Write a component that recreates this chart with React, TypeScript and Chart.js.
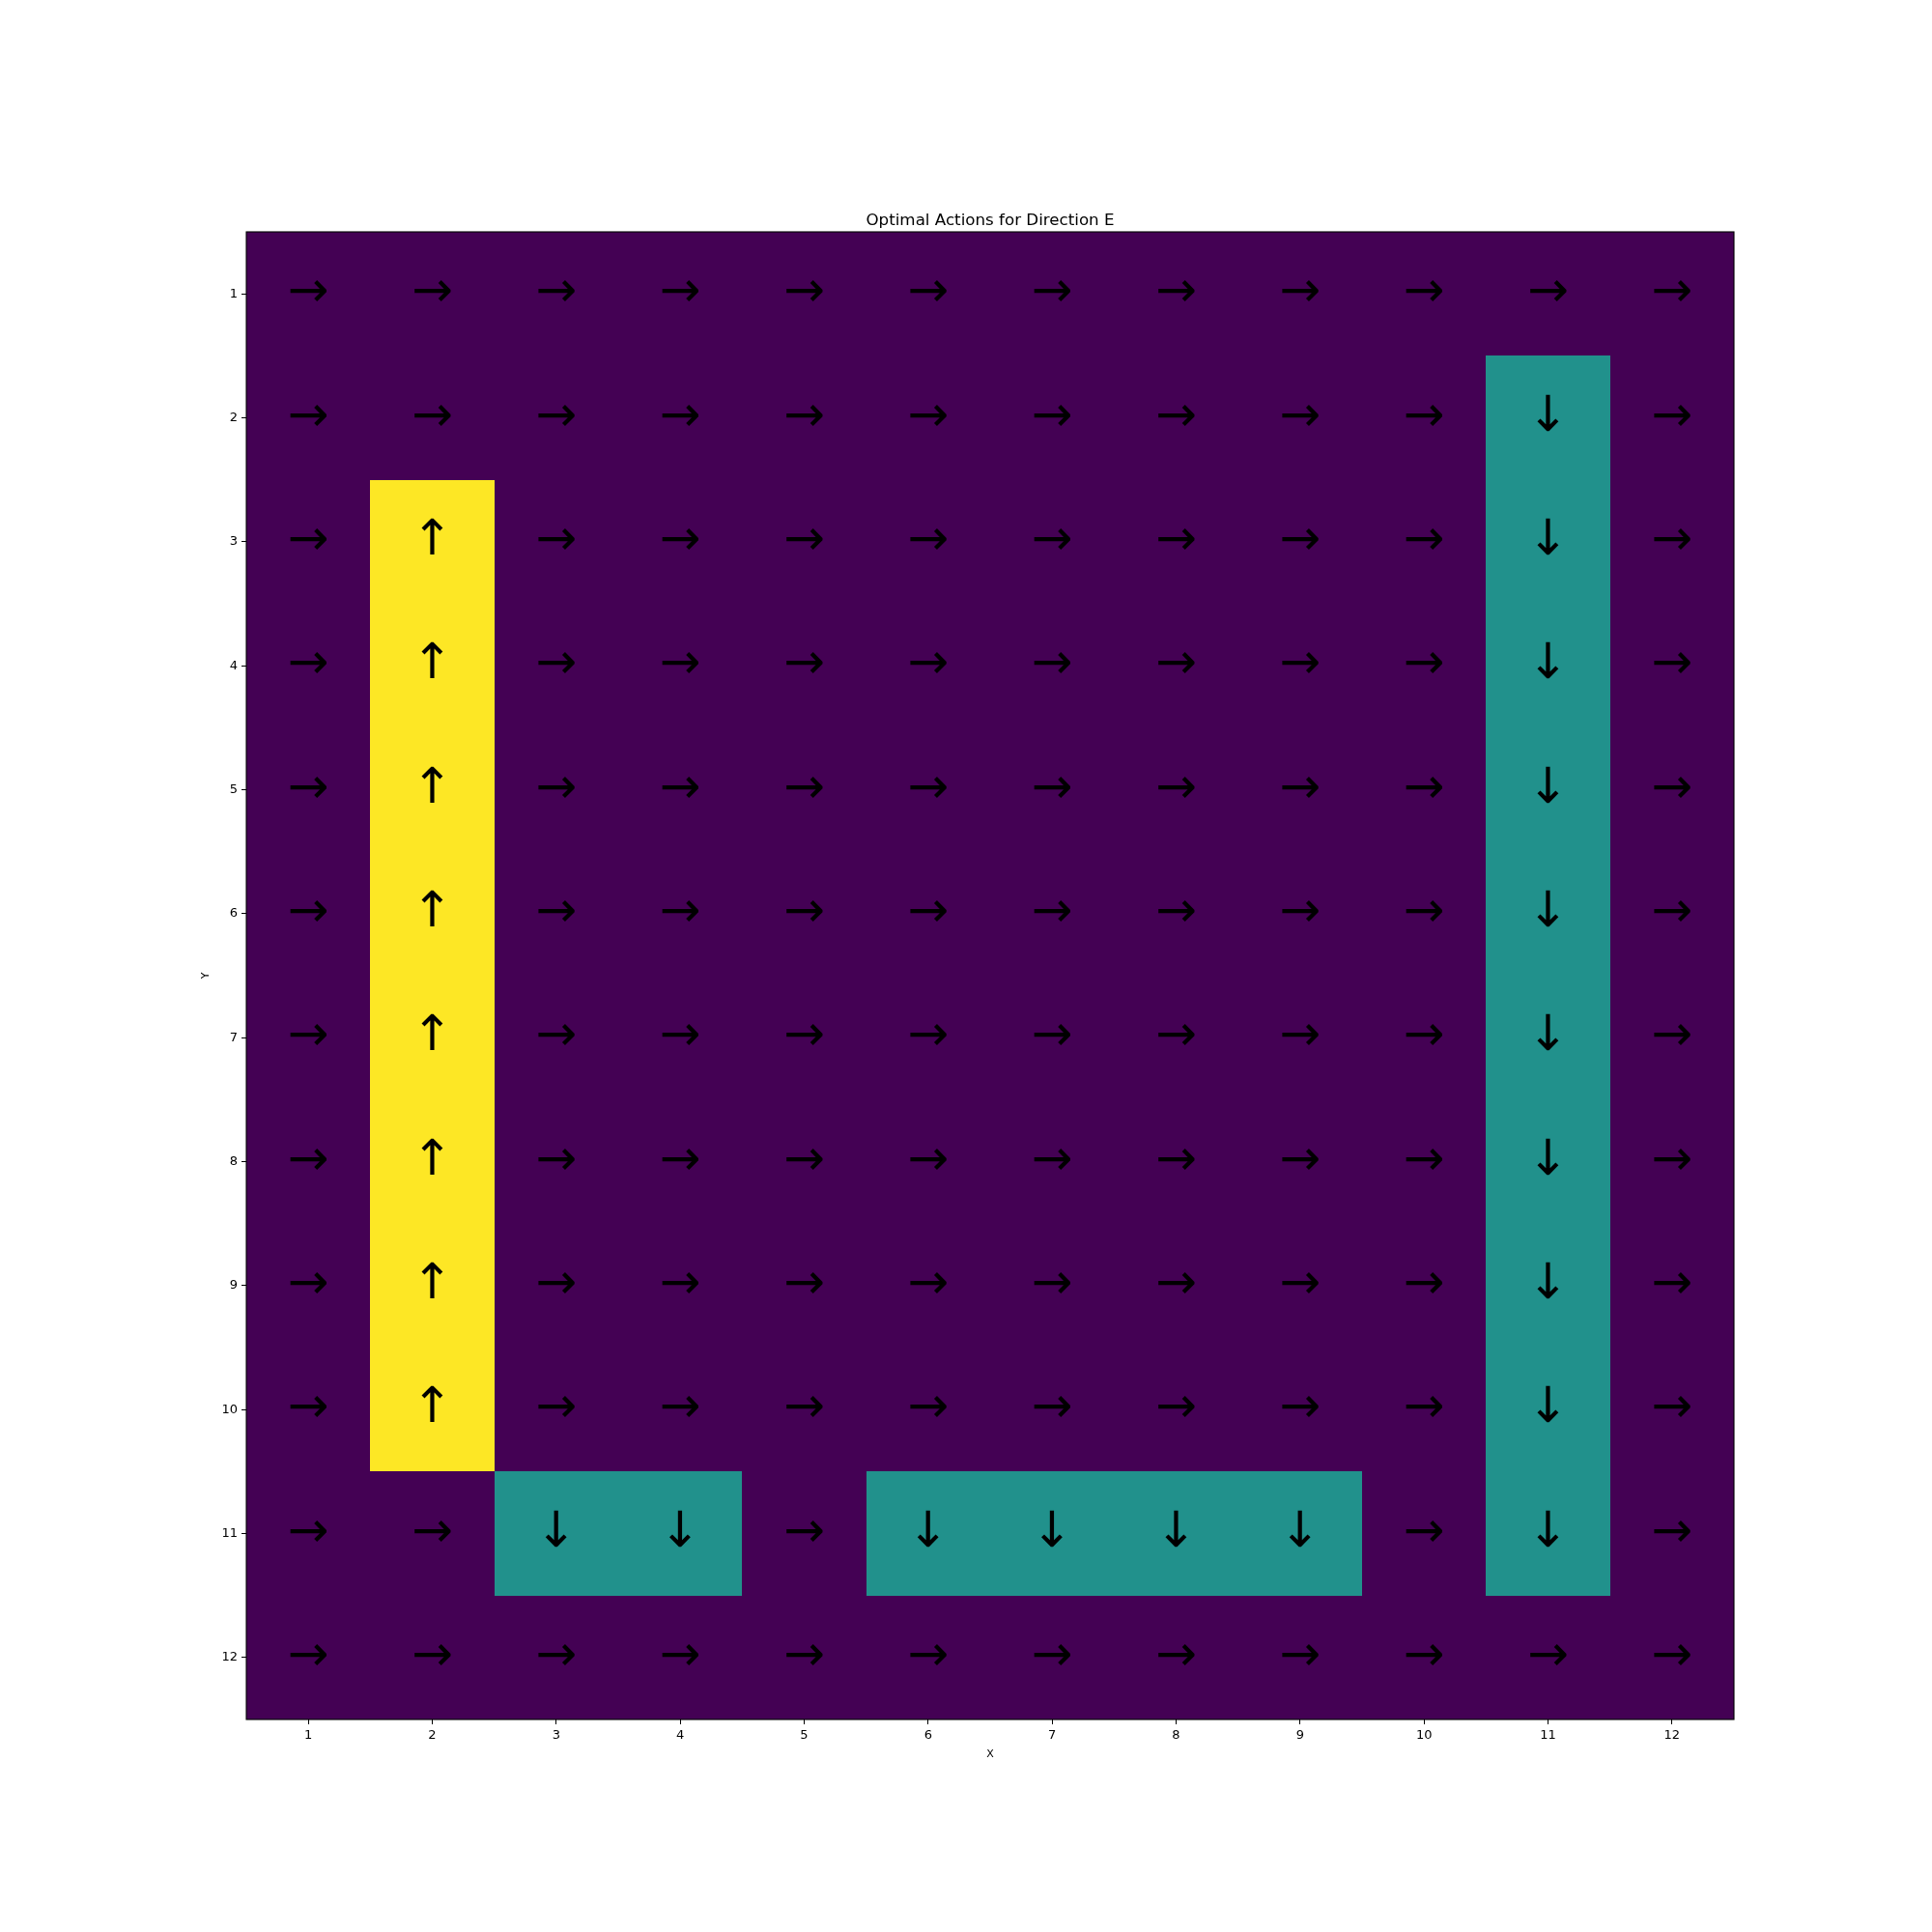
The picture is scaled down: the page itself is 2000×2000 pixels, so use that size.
import React, { useEffect, useRef } from "react";
import { Chart, registerables } from "chart.js";

Chart.register(...registerables);

const titleText = "Optimal Actions for Direction E";
const xTitle = "X";
const yTitle = "Y";
const xTickValues = [1, 2, 3, 4, 5, 6, 7, 8, 9, 10, 11, 12];
const yTickValues = [1, 2, 3, 4, 5, 6, 7, 8, 9, 10, 11, 12];

// R = right (→), D = down (↓), U = up (↑); one string per row Y=1..12, columns X=1..12
const actionRows = [
  "RRRRRRRRRRRR",
  "RRRRRRRRRRDR",
  "RURRRRRRRRDR",
  "RURRRRRRRRDR",
  "RURRRRRRRRDR",
  "RURRRRRRRRDR",
  "RURRRRRRRRDR",
  "RURRRRRRRRDR",
  "RURRRRRRRRDR",
  "RURRRRRRRRDR",
  "RRDDRDDDDRDR",
  "RRRRRRRRRRRR",
];

const actionGlyph: Record<string, string> = { R: "→", D: "↓", U: "↑" };
const actionColor: Record<string, string> = { R: "#440154", D: "#21918c", U: "#fde725" };

const FONT = "'DejaVu Sans', sans-serif";
const ARROW_SIZE = 51;

export default function App() {
  const ref = useRef<HTMLCanvasElement | null>(null);

  useEffect(() => {
    const canvas = ref.current;
    if (!canvas) return;
    const points: { x: number; y: number; a: string }[] = [];
    actionRows.forEach((row, ri) => {
      row.split("").forEach((a, ci) => {
        points.push({ x: xTickValues[ci], y: yTickValues[ri], a });
      });
    });

    const cellPlugin = {
      id: "cells",
      beforeDatasetsDraw(chart: any) {
        const ctx = chart.ctx;
        const xs = chart.scales.x;
        const ys = chart.scales.y;
        ctx.save();
        points.forEach((p) => {
          const x0 = Math.round(xs.getPixelForValue(p.x - 0.5));
          const x1 = Math.round(xs.getPixelForValue(p.x + 0.5));
          const y0 = Math.round(ys.getPixelForValue(p.y - 0.5));
          const y1 = Math.round(ys.getPixelForValue(p.y + 0.5));
          ctx.fillStyle = actionColor[p.a];
          ctx.fillRect(Math.min(x0, x1), Math.min(y0, y1), Math.abs(x1 - x0), Math.abs(y1 - y0));
        });
        ctx.restore();
      },
      afterDatasetsDraw(chart: any) {
        const ctx = chart.ctx;
        const xs = chart.scales.x;
        const ys = chart.scales.y;
        ctx.save();
        ctx.fillStyle = "#000000";
        ctx.font = `${ARROW_SIZE}px ${FONT}`;
        ctx.textAlign = "center";
        ctx.textBaseline = "middle";
        points.forEach((p) => {
          ctx.fillText(actionGlyph[p.a], xs.getPixelForValue(p.x), ys.getPixelForValue(p.y));
        });
        const ca = chart.chartArea;
        ctx.strokeStyle = "#000000";
        ctx.lineWidth = 1.1;
        ctx.strokeRect(ca.left, ca.top, ca.right - ca.left, ca.bottom - ca.top);
        // title centred over the plot area
        ctx.font = `16.7px ${FONT}`;
        ctx.textAlign = "center";
        ctx.textBaseline = "alphabetic";
        ctx.fillText(titleText, (ca.left + ca.right) / 2, ca.top - 7);
        ctx.restore();
      },
    };

    const chart = new Chart(canvas, {
      type: "scatter",
      data: {
        datasets: [
          {
            data: points as any,
            pointRadius: 0,
            pointHoverRadius: 0,
          },
        ],
      },
      options: {
        animation: false,
        responsive: false,
        devicePixelRatio: 1,
        events: [],
        layout: { padding: { left: 207, right: 205, top: 240, bottom: 177 } },
        plugins: {
          legend: { display: false },
          tooltip: { enabled: false },
          title: { display: false },
        },
        scales: {
          x: {
            type: "linear",
            min: 0.5,
            max: 12.5,
            afterBuildTicks: (s: any) => {
              s.ticks = xTickValues.map((v) => ({ value: v }));
            },
            afterFit: (s: any) => {
              s.height = 43;
            },
            grid: { display: true, drawOnChartArea: false, drawTicks: true, tickLength: 5, color: "#000000", tickWidth: 1 },
            border: { display: false },
            ticks: {
              color: "#000000",
              font: { family: FONT, size: 13 },
              padding: 4,
              maxRotation: 0,
              autoSkip: false,
              callback: (v: any) => String(v),
            },
            title: {
              display: true,
              text: xTitle,
              color: "#000000",
              font: { family: FONT, size: 11 },
              padding: { top: 0, bottom: 0 },
            },
          },
          y: {
            type: "linear",
            reverse: true,
            min: 0.5,
            max: 12.5,
            afterBuildTicks: (s: any) => {
              s.ticks = yTickValues.map((v) => ({ value: v }));
            },
            afterFit: (s: any) => {
              s.width = 48;
            },
            grid: { display: true, drawOnChartArea: false, drawTicks: true, tickLength: 5, color: "#000000", tickWidth: 1 },
            border: { display: false },
            ticks: {
              color: "#000000",
              font: { family: FONT, size: 13 },
              padding: 4,
              autoSkip: false,
              callback: (v: any) => String(v),
            },
            title: {
              display: true,
              text: yTitle,
              color: "#000000",
              font: { family: FONT, size: 11 },
              padding: { top: 0, bottom: 0 },
            },
          },
        },
      } as any,
      plugins: [cellPlugin],
    });
    return () => chart.destroy();
  }, []);

  return (
    <div style={{ position: "absolute", left: 0, top: 0, width: 2000, height: 2000, background: "#ffffff" }}>
      <canvas ref={ref} width={2000} height={2000} style={{ width: 2000, height: 2000, display: "block" }} />
    </div>
  );
}
